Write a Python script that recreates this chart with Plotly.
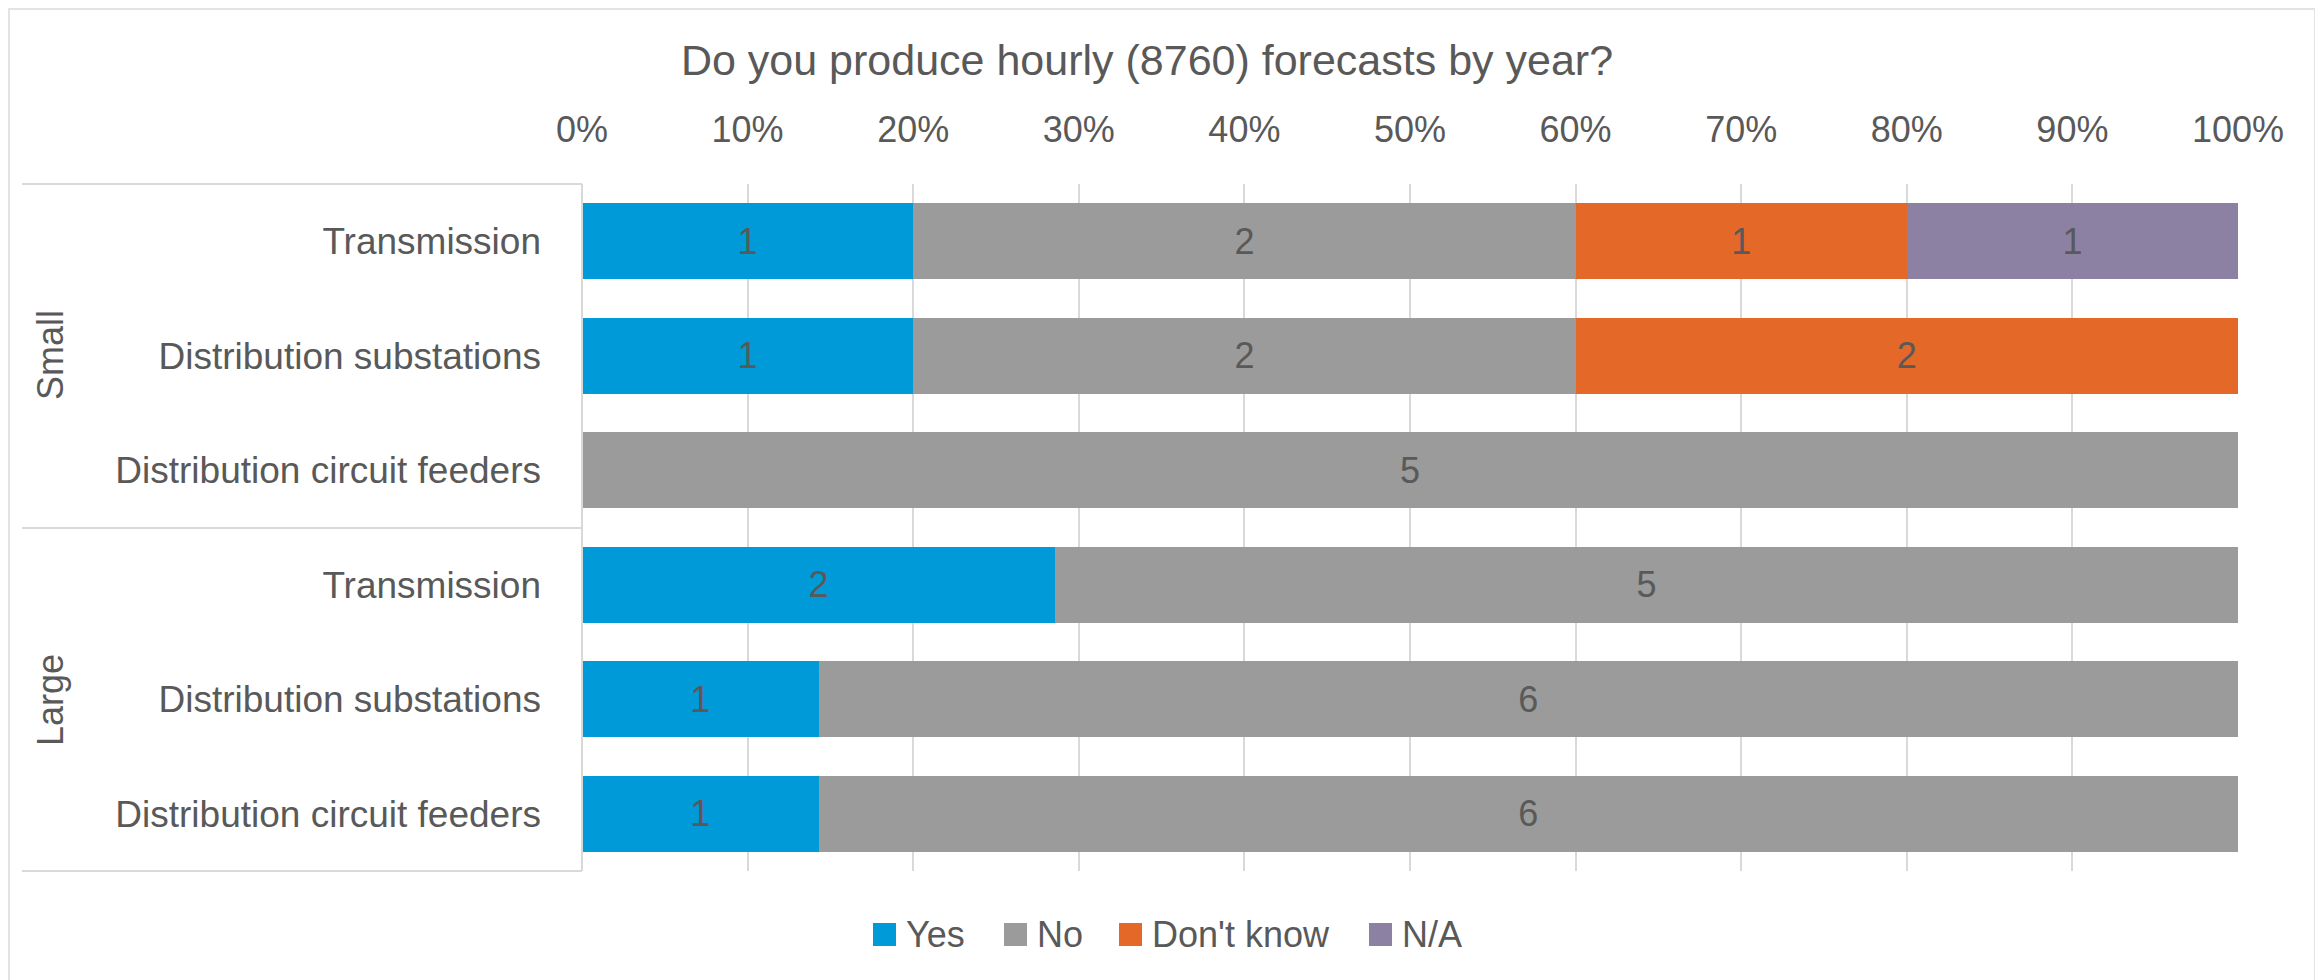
import plotly.graph_objects as go

# ---- data ----
title_text = "Do you produce hourly (8760) forecasts by year?"
groups = ["Small", "Small", "Small", "Large", "Large", "Large"]
categories = ["Transmission", "Distribution substations", "Distribution circuit feeders",
              "Transmission", "Distribution substations", "Distribution circuit feeders"]
series_names = ["Yes", "No", "Don't know", "N/A"]
yes = [1, 1, 0, 2, 1, 1]
no = [2, 2, 5, 5, 6, 6]
dont_know = [1, 2, 0, 0, 0, 0]
na = [1, 0, 0, 0, 0, 0]
x_ticks = [0, 10, 20, 30, 40, 50, 60, 70, 80, 90, 100]
x_tick_labels = [f"{t}%" for t in x_ticks]

# ---- style ----
colors = ["#009AD8", "#9B9B9B", "#E46827", "#8C81A3"]
FONT = "Liberation Sans, Arial, sans-serif"
TXT = "#595959"
GRID = "#D9D9D9"
OFF = 8  # page body margin
W, H = 2323 - OFF, 980 - OFF
L, R, T, B = 574, 85, 176, 109
PW, PH = W - L - R, H - T - B


def px(x):  # screen x -> paper
    return (x - OFF - L) / PW


def py(y):  # screen y -> paper
    return (H - B - (y - OFF)) / PH


keys = [f"{g}|{c}" for g, c in zip(groups, categories)]
series_values = [yes, no, dont_know, na]

fig = go.Figure()
for name, vals, col in zip(series_names, series_values, colors):
    fig.add_trace(go.Bar(
        name=name, y=keys, x=vals, orientation="h",
        marker=dict(color=col, line=dict(width=0)),
        text=[str(v) if v else "" for v in vals],
        textposition="inside", insidetextanchor="middle", textangle=0,
        constraintext="none",
        textfont=dict(family=FONT, size=36, color=TXT),
        hoverinfo="skip", showlegend=False,
    ))

shapes = []
line_style = dict(color=GRID, width=2)
# outer border (bottom edge falls outside the picture)
shapes.append(dict(type="rect", xref="paper", yref="paper",
                   x0=px(9), x1=px(2315), y0=py(9), y1=py(990),
                   line=dict(color="#E3E3E3", width=2), layer="below"))
# category axis separators
for yy in [184, 528, 871]:
    shapes.append(dict(type="line", xref="paper", yref="paper",
                       x0=px(22), x1=0, y0=py(yy), y1=py(yy), line=line_style))
shapes.append(dict(type="line", xref="paper", yref="paper",
                   x0=0, x1=0, y0=py(184), y1=py(871), line=line_style))

annotations = []
group_names = []
for g in groups:
    if g not in group_names:
        group_names.append(g)
group_centers = {"Small": 355, "Large": 700}
for g in group_names:
    annotations.append(dict(text=g, xref="paper", yref="paper", x=px(50), y=py(group_centers[g]),
                            textangle=-90, showarrow=False, xanchor="center", yanchor="middle",
                            font=dict(family=FONT, size=36, color=TXT)))

# custom legend (larger swatches like the original)
legend_x = [873, 1004, 1119, 1369]
for name, col, lx in zip(series_names, colors, legend_x):
    shapes.append(dict(type="rect", xref="paper", yref="paper",
                       x0=px(lx), x1=px(lx + 23), y0=py(946), y1=py(923),
                       fillcolor=col, line=dict(width=0)))
    annotations.append(dict(text=name, xref="paper", yref="paper", x=px(lx + 31), y=py(934.5),
                            xanchor="left", yanchor="middle", showarrow=False,
                            font=dict(family=FONT, size=36, color=TXT)))

fig.update_layout(
    width=W, height=H,
    margin=dict(l=L, r=R, t=T, b=B, autoexpand=False),
    paper_bgcolor="white", plot_bgcolor="white",
    barmode="stack", barnorm="percent", bargap=0.335,
    font=dict(family=FONT, size=36, color=TXT),
    showlegend=False,
    title=dict(text=title_text, x=(1147 - OFF) / W, xanchor="center", xref="container",
               y=1 - (60 - OFF) / H, yanchor="middle", yref="container",
               font=dict(family=FONT, size=43, color=TXT)),
    xaxis=dict(side="top", range=[0, 100], tickvals=x_ticks, ticktext=x_tick_labels,
               showgrid=True, gridcolor=GRID, gridwidth=2, zeroline=False,
               showline=False, ticks="", ticklabelstandoff=34,
               tickfont=dict(family=FONT, size=36, color=TXT), fixedrange=True),
    yaxis=dict(categoryorder="array", categoryarray=keys, autorange="reversed",
               tickvals=keys, ticktext=categories, showgrid=False, zeroline=False,
               showline=False, ticks="", ticklabelstandoff=40,
               tickfont=dict(family=FONT, size=37, color=TXT)),
    shapes=shapes, annotations=annotations,
)

fig.write_html("out.html")
